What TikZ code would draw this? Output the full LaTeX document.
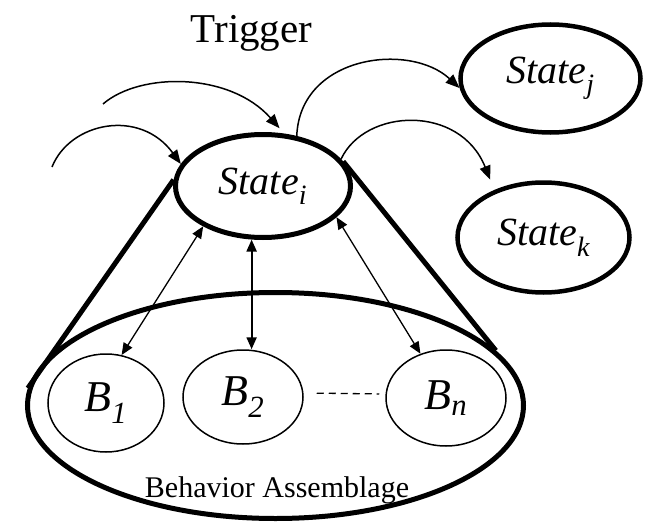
\documentclass[tikz,border=0pt]{standalone}
\usepackage{fontspec}
\setmainfont{Liberation Serif}
\usetikzlibrary{shapes.geometric,arrows.meta}
\begin{document}
\begin{tikzpicture}[x=1pt,y=-1pt,
  statebox/.style={ellipse,draw,line width=5pt,inner sep=0pt,
    font=\fontsize{40}{48}\selectfont\itshape},
  behbox/.style={ellipse,draw,line width=1.5pt,inner sep=0pt,
    font=\fontsize{44}{52}\selectfont\itshape},
  flow/.style={line width=1.5pt,-{Triangle[length=14pt,width=11pt]}},
  link/.style={line width=1.3pt,
    {Triangle[length=12pt,width=10pt]}-{Triangle[length=12pt,width=10pt]}},
  cone/.style={line width=5pt}]
\useasboundingbox (0,0) rectangle (646,522);

% assemblage and its behaviors
\node[ellipse,draw,line width=5pt,minimum width=496pt,minimum height=226pt] (ba) at (275.5,405.5) {};
\node[behbox,minimum width=116pt,minimum height=98pt] (b1) at (106,403) {B\textsubscript{1}};
\node[behbox,minimum width=120pt,minimum height=94pt] (b2) at (243,397) {B\textsubscript{2}};
\node[behbox,minimum width=120pt,minimum height=96pt] (bn) at (446,398) {B\textsubscript{n}};
\node[font=\fontsize{30}{36}\selectfont,anchor=base] (balabel) at (277,497) {Behavior Assemblage};

% states
\node[statebox,minimum width=175pt,minimum height=103pt] (si) at (263,186) {State\textsubscript{i}};
\node[statebox,line width=4.5pt,minimum width=180pt,minimum height=108pt] (sj) at (550.5,78.5) {State\textsubscript{j}};
\node[statebox,line width=4.5pt,minimum width=172pt,minimum height=110pt] (sk) at (543.5,237.5) {State\textsubscript{k}};

\node[font=\fontsize{41}{48}\selectfont,anchor=base] (trig) at (251.5,42) {Trigger};

% cone joining the state to its assemblage
\draw[cone] (si.176) -- (ba.176);
\draw[cone] (si.17) -- (ba.14);

% incoming triggers
\coordinate (a0) at (103,104);
\coordinate (b0) at (52,167);
\draw[flow,shorten >=7pt] (a0) .. controls (140,72) and (230,72) .. (si.68);
\draw[flow] (b0) .. controls (70,122) and (140,108) .. (si.165);

% outgoing transitions
\draw[flow] (si.56) .. controls (300,55) and (410,42) .. (sj.186);
\draw[flow,shorten >=11pt] (si.19) .. controls (365,108) and (460,104) .. (sk.136);

% state <-> behaviors
\draw[link] (si.214) -- (b1.72);
\draw[link,line width=2.2pt] (si.258) -- (si.258 |- b2.north);
\draw[link] (si.337) -- (bn.120);

% elided behaviors
\draw[line width=1.3pt,dash pattern=on 7pt off 5pt,shorten <=13pt,shorten >=6pt]
  ([yshift=4pt]b2.east) -- ([yshift=4pt]bn.west);
\end{tikzpicture}
\end{document}
